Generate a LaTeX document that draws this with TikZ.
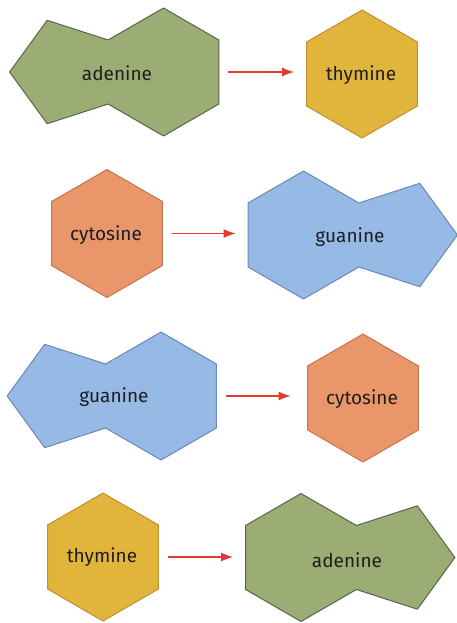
\documentclass[tikz,border=0pt]{standalone}
\usepackage{fontspec}
\setmainfont{Fira Sans}
\usepackage{xcolor}
\usepackage{tikz}
\usetikzlibrary{arrows.meta}
\definecolor{adeninefill}{HTML}{9BAD74}
\definecolor{adenineline}{HTML}{56664A}
\definecolor{thyminefill}{HTML}{E1B43C}
\definecolor{thymineline}{HTML}{C09030}
\definecolor{cytosinefill}{HTML}{E8966A}
\definecolor{cytosineline}{HTML}{C8744C}
\definecolor{guaninefill}{HTML}{96B9E6}
\definecolor{guanineline}{HTML}{6A88BA}
\definecolor{arrowred}{HTML}{E5392E}
\definecolor{basetext}{HTML}{1E1E1E}
\tikzset{
  hexbase/.pic={
    \draw[line width=1pt,line join=round,#1] (0,-64)--(55.4,-32)--(55.4,32)--(0,64)--(-55.4,32)--(-55.4,-32)--cycle;
    \coordinate (-left) at (-55.4,0);
    \coordinate (-right) at (55.4,0);
  },
  purinebase/.pic={
    \draw[line width=1pt,line join=round,#1] (0,-64)--(55.4,-32)--(116.3,-51.7)--(153.9,0)--(116.3,51.7)--(55.4,32)
      --(0,64)--(-55.4,32)--(-55.4,-32)--cycle;
    \coordinate (-free) at (-55.4,0);
    \coordinate (-tip) at (153.9,0);
  }
}
\begin{document}
\begin{tikzpicture}[x=1pt,y=-1pt,
  basename/.style={font=\fontsize{19}{22}\selectfont,text=basetext,inner sep=0pt},
  adenineshape/.style={fill=adeninefill,draw=adenineline},
  thymineshape/.style={fill=thyminefill,draw=thymineline},
  cytosineshape/.style={fill=cytosinefill,draw=cytosineline},
  guanineshape/.style={fill=guaninefill,draw=guanineline},
  pairarrow/.style={-{Latex[length=12pt,width=9pt]},line width=1.2pt,draw=arrowred,shorten <=9.5pt,shorten >=12.5pt}]
  \useasboundingbox (0,0) rectangle (457,623);
  % adenine -> thymine
  \pic[xscale=-1] (adenA) at (163.5,72) {purinebase=adenineshape};
  \pic (thymA) at (362,74) {hexbase=thymineshape};
  \node[basename] (adenAtxt) at (117,73) {adenine};
  \node[basename] (thymAtxt) at (361,75) {thymine};
  \draw[pairarrow] (adenA-free) -- (adenA-free -| thymA-left);
  % cytosine -> guanine
  \pic (cytoB) at (107,233.5) {hexbase=cytosineshape};
  \pic (guanB) at (303.5,235) {purinebase=guanineshape};
  \node[basename] (cytoBtxt) at (106,235) {cytosine};
  \node[basename] (guanBtxt) at (350,237) {guanine};
  \draw[pairarrow] (cytoB-right) -- (cytoB-right -| guanB-free);
  % guanine -> cytosine
  \pic[xscale=-1] (guanC) at (161,396) {purinebase=guanineshape};
  \pic (cytoC) at (363,398) {hexbase=cytosineshape};
  \node[basename] (guanCtxt) at (114,397) {guanine};
  \node[basename] (cytoCtxt) at (362,399) {cytosine};
  \draw[pairarrow,shorten >=17pt] (guanC-free) -- (guanC-free -| cytoC-left);
  % thymine -> adenine
  \pic (thymD) at (103,557) {hexbase=thymineshape};
  \pic (adenD) at (301,557.5) {purinebase=adenineshape};
  \node[basename] (thymDtxt) at (102,557) {thymine};
  \node[basename] (adenDtxt) at (347,560) {adenine};
  \draw[pairarrow] (thymD-right) -- (thymD-right -| adenD-free);
\end{tikzpicture}
\end{document}
